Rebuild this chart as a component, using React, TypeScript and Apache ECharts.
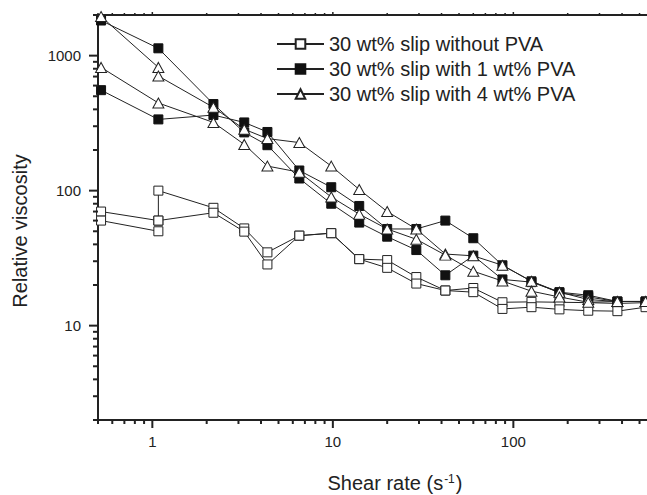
import React, { useEffect, useRef } from 'react';
import * as echarts from 'echarts';

const NAME_OPEN = '30 wt% slip without PVA';
const NAME_PVA1 = '30 wt% slip with 1 wt% PVA';
const NAME_PVA4 = '30 wt% slip with 4 wt% PVA';

// Shear rates (s^-1)
const shearRate = [0.52, 1.08, 2.18, 3.23, 4.34, 6.52, 9.8, 14, 20, 29, 42, 60, 87, 126, 180, 260, 377, 540];
// same grid with a repeated reading at 1.08
const shearRateRepeat = [0.52, 1.08, 1.08, 2.18, 3.23, 4.34, 6.52, 9.8, 14, 20, 29, 42, 60, 87, 126, 180, 260, 377, 540];
// same grid with a break at 1.08
const shearRateBreak = [0.52, 1.08, 1.08, 1.08, 2.18, 3.23, 4.34, 6.52, 9.8, 14, 20, 29, 42, 60, 87, 126, 180, 260, 377, 540];

// Relative viscosity, 30 wt% slip without PVA (two runs)
const openRunA = [70, 60, 100, 74.6, 52.5, 34.9, 46.4, 48.4, 31.1, 30.6, 22.9, 18.2, 19.0, 14.9, 15.0, 14.9, 14.8, 14.6, 14.8];
const openRunB = [60, 50, null, 60, 68.6, 49.7, 28.4, 46.4, 48.4, 31.1, 26.8, 20.5, 18.2, 17.7, 13.3, 13.7, 13.2, 12.9, 12.8, 13.7];

// 30 wt% slip with 1 wt% PVA (two runs)
const pva1RunA = [1820, 1133, 438, 270, 217, 123, 80, 58, 45.6, 36.3, 23.6, 33, 22, 21, 17.7, 16.8, 15.1, 15.1];
const pva1RunB = [555, 337, 363, 320, 272, 141, 106, 77, 52, 52, 60, 44.4, 28, 21.3, 17.5, 16.3, 15.1, 15.1];

// 30 wt% slip with 4 wt% PVA (two runs)
const pva4RunA = [1950, 818, 706, 414, 285, 243, 227, 152, 102, 70, 52, 33.9, 32.9, 28, 21.3, 17.7, 15.6, 15.1, 15.1];
const pva4RunB = [818, 446, 320, 220, 152, 137, 89.7, 67, 52, 43.6, 33.3, 25.3, 21.4, 18.0, 16.3, 14.9, 15.1, 15.1];

// Axis ranges and ticks
const X_MIN = 0.5;
const X_MAX = 550;
const Y_MIN = 2;
const Y_MAX = 2000;
const xMajorTicks = [1, 10, 100];
const xMinorTicks = [0.5, 0.6, 0.7, 0.8, 0.9, 2, 3, 4, 5, 6, 7, 8, 9, 20, 30, 40, 50, 60, 70, 80, 90, 200, 300, 400, 500];
const yMajorTicks = [10, 100, 1000];
const yMinorTicks = [2, 3, 4, 5, 6, 7, 8, 9, 20, 30, 40, 50, 60, 70, 80, 90, 200, 300, 400, 500, 600, 700, 800, 900, 2000];

const FONT = "'Liberation Sans', Arial, Helvetica, sans-serif";
const INK = '#222';

const pairs = (xs: number[], ys: (number | null)[]) =>
  xs.map((x, i) => [x, ys[i] == null ? '-' : ys[i]]);

const isPow10 = (v: number) => {
  const l = Math.log10(v);
  return Math.abs(l - Math.round(l)) < 1e-6;
};

const openStyle = {
  symbol: 'rect',
  symbolSize: 9,
  itemStyle: { color: '#fff', borderColor: INK, borderWidth: 1 },
};
const filledStyle = {
  symbol: 'rect',
  symbolSize: 9,
  itemStyle: { color: '#111', borderColor: '#111', borderWidth: 1 },
};
const triStyle = {
  symbol: 'triangle',
  symbolSize: [11, 10],
  itemStyle: { color: '#fff', borderColor: INK, borderWidth: 1 },
};

function makeLine(name: string, data: any[], style: any) {
  return {
    type: 'line',
    name,
    data,
    ...style,
    showSymbol: true,
    connectNulls: false,
    lineStyle: { color: INK, width: 1 },
    emphasis: { disabled: true },
  };
}

export default function App() {
  const ref = useRef<HTMLDivElement>(null);

  useEffect(() => {
    if (!ref.current) return;
    const chart = echarts.init(ref.current, undefined, { renderer: 'svg' });

    const tickData: number[][] = [
      ...xMajorTicks.map((v) => [v, Y_MIN, 0, 1]),
      ...xMinorTicks.map((v) => [v, Y_MIN, 0, 0]),
      ...yMajorTicks.map((v) => [X_MIN, v, 1, 1]),
      ...yMinorTicks.map((v) => [X_MIN, v, 1, 0]),
    ];

    const option: any = {
      animation: false,
      backgroundColor: '#fff',
      textStyle: { fontFamily: FONT },
      grid: { left: 98, right: 0, top: 15, bottom: 75, outerBoundsMode: 'none', containLabel: false },
      legend: {
        orient: 'vertical',
        left: 276,
        top: 34,
        padding: 0,
        itemWidth: 47,
        itemHeight: 12,
        itemGap: 5,
        selectedMode: false,
        data: [NAME_OPEN, NAME_PVA1, NAME_PVA4],
        textStyle: { fontSize: 20, color: INK, fontFamily: FONT },
      },
      xAxis: [
        {
          type: 'log',
          logBase: 10,
          min: X_MIN,
          max: X_MAX,
          position: 'bottom',
          axisLine: { show: true, lineStyle: { color: INK, width: 2 } },
          axisTick: { show: false },
          minorTick: { show: false },
          splitLine: { show: false },
          axisLabel: {
            show: true,
            margin: 14,
            fontSize: 15,
            color: INK,
            fontFamily: FONT,
            showMinLabel: true,
            showMaxLabel: true,
            formatter: (v: number) => (isPow10(v) ? String(Math.round(v)) : ''),
          },
        },
        {
          type: 'log',
          logBase: 10,
          min: X_MIN,
          max: X_MAX,
          position: 'top',
          axisLine: { show: true, lineStyle: { color: INK, width: 2 } },
          axisTick: { show: false },
          axisLabel: { show: false },
          splitLine: { show: false },
        },
      ],
      yAxis: {
        type: 'log',
        logBase: 10,
        min: Y_MIN,
        max: Y_MAX,
        axisLine: { show: true, lineStyle: { color: INK, width: 2 } },
        axisTick: { show: false },
        minorTick: { show: false },
        splitLine: { show: false },
        axisLabel: {
          show: true,
          margin: 17,
          fontSize: 15,
          color: INK,
          fontFamily: FONT,
          formatter: (v: number) => (isPow10(v) ? String(Math.round(v)) : ''),
        },
      },
      graphic: [
        {
          type: 'text',
          x: 20,
          y: 231,
          rotation: Math.PI / 2,
          style: {
            text: 'Relative viscosity',
            fontSize: 20,
            fontFamily: FONT,
            fill: INK,
            align: 'center',
            verticalAlign: 'middle',
          },
        },
        {
          type: 'text',
          x: 395,
          y: 483,
          style: {
            text: 'Shear rate (s{sup|-1})',
            fontSize: 20,
            fontFamily: FONT,
            fill: INK,
            align: 'center',
            verticalAlign: 'middle',
            rich: {
              sup: { fontSize: 12, fontFamily: FONT, fill: INK, verticalAlign: 'top', padding: [0, 1, 8, 1] },
            },
          },
        },
      ],
      series: [
        {
          type: 'custom',
          name: 'ticks',
          coordinateSystem: 'cartesian2d',
          xAxisIndex: 0,
          yAxisIndex: 0,
          clip: false,
          silent: true,
          z: 5,
          dimensions: ['x', 'y', 'kind', 'major'],
          encode: { x: 0, y: 1 },
          data: tickData,
          renderItem: (params: any, api: any) => {
            const kind = api.value(2);
            const major = api.value(3);
            const p = api.coord([api.value(0), api.value(1)]);
            if (kind === 0) {
              const len = major ? 8 : 4;
              const t = api.coord([api.value(0), Y_MAX]);
              return {
                type: 'group',
                children: [
                  { type: 'line', shape: { x1: p[0], y1: p[1], x2: p[0], y2: p[1] + len }, style: { stroke: INK, lineWidth: 2 } },
                  { type: 'line', shape: { x1: t[0], y1: t[1], x2: t[0], y2: t[1] - (major ? 3 : 2) }, style: { stroke: INK, lineWidth: 1.5 } },
                ],
              };
            }
            const len = major ? 9 : 5;
            return {
              type: 'line',
              shape: { x1: p[0] - len, y1: p[1], x2: p[0], y2: p[1] },
              style: { stroke: INK, lineWidth: 2 },
            };
          },
        },
        makeLine(NAME_OPEN, pairs(shearRateRepeat, openRunA), openStyle),
        makeLine(NAME_OPEN, pairs(shearRateBreak, openRunB), openStyle),
        makeLine(NAME_PVA1, pairs(shearRate, pva1RunA), filledStyle),
        makeLine(NAME_PVA1, pairs(shearRate, pva1RunB), filledStyle),
        makeLine(NAME_PVA4, pairs(shearRateRepeat, pva4RunA), triStyle),
        makeLine(NAME_PVA4, pairs(shearRate, pva4RunB), triStyle),
      ],
    };

    chart.setOption(option);
    return () => chart.dispose();
  }, []);

  return (
    <div
      ref={ref}
      style={{ position: 'fixed', left: 0, top: 0, width: 647, height: 495, background: '#fff' }}
    />
  );
}
